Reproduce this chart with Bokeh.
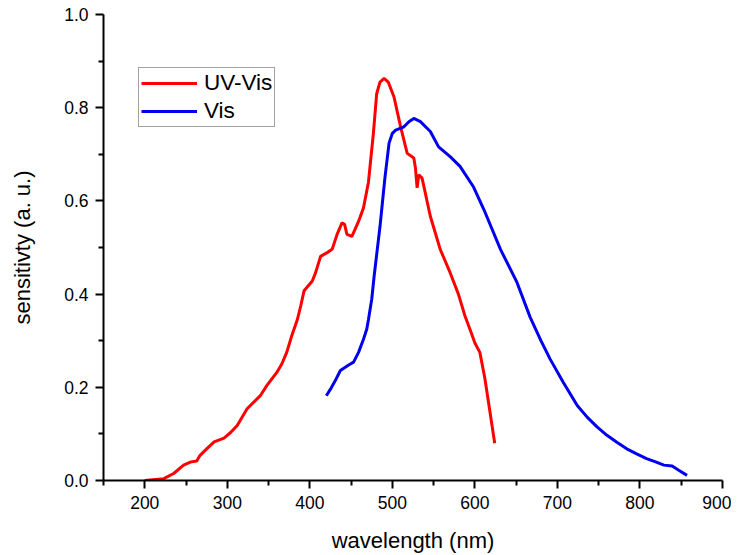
from bokeh.plotting import figure
from bokeh.models import Range1d, FixedTicker, PrintfTickFormatter, Legend, LegendItem
from bokeh.embed import file_html
from bokeh.resources import INLINE

uv_wl = [200, 223, 235, 247, 256, 263, 267, 275, 284, 296, 304, 312, 324, 340, 348, 360, 366,
         372, 378, 385, 389, 393, 403, 407, 413, 421, 427, 433, 439, 442, 445, 451, 459, 465,
         471, 477, 481, 485, 490, 495, 502, 510, 518, 526, 528, 530, 532, 536, 546, 558, 570,
         580, 588, 596, 600, 606, 612, 618, 624]
uv_sens = [0.0, 0.004, 0.015, 0.033, 0.040, 0.042, 0.054, 0.068, 0.083, 0.091, 0.103, 0.118,
           0.154, 0.182, 0.204, 0.232, 0.250, 0.275, 0.310, 0.346, 0.375, 0.407, 0.428, 0.446,
           0.481, 0.489, 0.496, 0.528, 0.553, 0.550, 0.528, 0.524, 0.556, 0.585, 0.640, 0.745,
           0.830, 0.855, 0.863, 0.855, 0.823, 0.759, 0.702, 0.692, 0.670, 0.628, 0.656, 0.649,
           0.567, 0.496, 0.446, 0.400, 0.353, 0.315, 0.295, 0.275, 0.220, 0.150, 0.080]

vis_wl = [420, 425, 431, 437, 447, 453, 459, 465, 469, 471, 475, 478, 485, 491, 496, 500, 504,
          514, 520, 526, 534, 546, 556, 570, 582, 598, 611, 631, 651, 667, 680, 691, 707, 724,
          736, 748, 760, 772, 784, 796, 808, 819, 829, 839, 847, 857]
vis_sens = [0.182, 0.196, 0.215, 0.236, 0.248, 0.254, 0.275, 0.303, 0.325, 0.345, 0.389, 0.440,
            0.545, 0.650, 0.724, 0.745, 0.752, 0.759, 0.770, 0.777, 0.770, 0.749, 0.716, 0.695,
            0.674, 0.631, 0.581, 0.496, 0.425, 0.350, 0.300, 0.261, 0.211, 0.161, 0.136, 0.115,
            0.097, 0.082, 0.068, 0.057, 0.047, 0.040, 0.033, 0.031, 0.022, 0.011]

x_major = [200, 300, 400, 500, 600, 700, 800, 900]
x_minor = [150, 250, 350, 450, 550, 650, 750, 850]
y_major = [0.0, 0.2, 0.4, 0.6, 0.8, 1.0]
y_minor = [0.1, 0.3, 0.5, 0.7, 0.9]

FONT = "Liberation Sans"

p = figure(width=731, height=555, output_backend="svg", toolbar_location=None,
           x_range=Range1d(150, 900), y_range=Range1d(0, 1.0),
           min_border_left=103, min_border_right=9, min_border_top=14, min_border_bottom=73)
p.outline_line_color = None
p.grid.visible = False
p.background_fill_color = "white"
p.border_fill_color = "white"

r1 = p.line(uv_wl, uv_sens, line_color="#ff0000", line_width=3)
r2 = p.line(vis_wl, vis_sens, line_color="#0000ee", line_width=3)

p.xaxis.ticker = FixedTicker(ticks=x_major, minor_ticks=x_minor)
p.yaxis.ticker = FixedTicker(ticks=y_major, minor_ticks=y_minor)
p.yaxis.formatter = PrintfTickFormatter(format="%.1f")

for ax in (p.xaxis[0], p.yaxis[0]):
    ax.axis_line_width = 2
    ax.axis_line_color = "black"
    ax.major_tick_line_width = 2
    ax.minor_tick_line_width = 2
    ax.major_tick_out = 8
    ax.major_tick_in = 0
    ax.minor_tick_out = 5
    ax.minor_tick_in = 0
    ax.major_label_text_font = FONT
    ax.major_label_text_font_size = "17.5px"
    ax.major_label_text_color = "black"
    ax.axis_label_text_font = FONT
    ax.axis_label_text_font_size = "22px"
    ax.axis_label_text_font_style = "normal"
    ax.axis_label_text_color = "black"

p.xaxis.major_label_standoff = 7
p.yaxis.major_label_standoff = 7
p.xaxis.axis_label = "wavelength (nm)"
p.yaxis.axis_label = "sensitivty (a. u.)"
p.xaxis.axis_label_standoff = 16
p.xaxis.axis_label_text_line_height = 0.9
p.xaxis.major_label_text_line_height = 1.0
p.yaxis.axis_label_standoff = 26

legend = Legend(items=[LegendItem(label="UV-Vis", renderers=[r1]),
                       LegendItem(label="Vis", renderers=[r2])],
                location=(35, 353))
legend.label_text_font = FONT
legend.label_text_font_size = "22.5px"
legend.label_text_color = "black"
legend.glyph_width = 56
legend.glyph_height = 24
legend.label_height = 24
legend.label_standoff = 7
legend.spacing = 2
legend.padding = 2
legend.margin = 0
legend.border_line_color = "#444444"
legend.border_line_width = 1
legend.background_fill_alpha = 1
p.add_layout(legend, "center")

open("out.html", "w").write(file_html(p, INLINE))
